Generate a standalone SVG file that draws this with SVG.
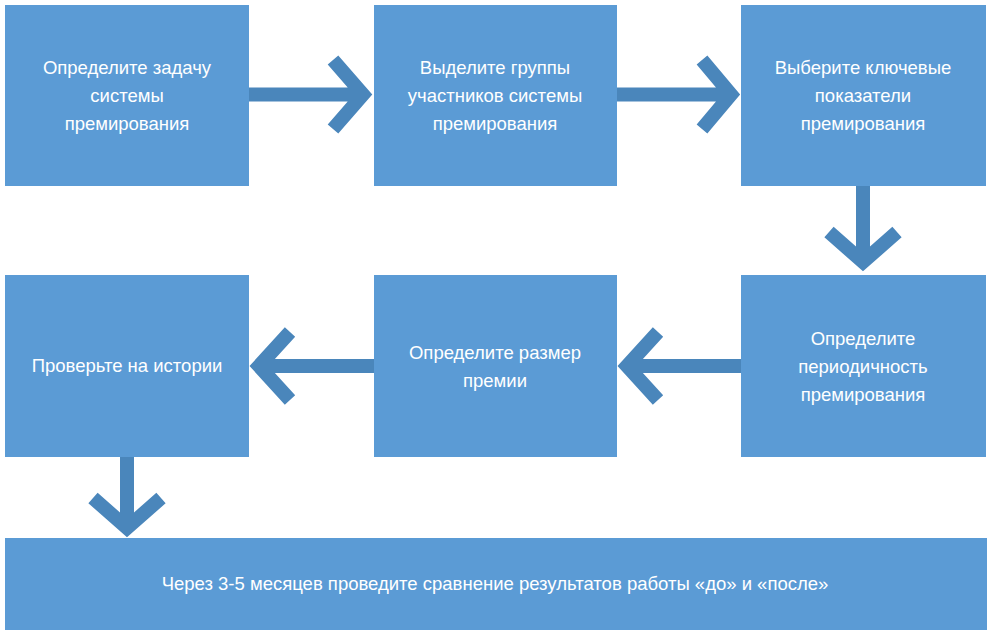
<svg xmlns="http://www.w3.org/2000/svg" width="992" height="635" viewBox="0 0 992 635">
<style>
.b{fill:#5b9bd5}
.t{fill:#fff;font-family:"Liberation Sans",Arial,sans-serif;font-size:18.5px;text-anchor:middle}
.a{fill:none;stroke:#4a86bb;stroke-width:14;stroke-linejoin:miter;stroke-miterlimit:10}
</style>
<rect width="992" height="635" fill="#fff"/>
<g id="n1"><rect class="b" x="5" y="5" width="244" height="181"/><text class="t" x="127" y="74">Определите задачу</text><text class="t" x="127" y="102">системы</text><text class="t" x="127" y="130">премирования</text></g>
<g id="n2"><rect class="b" x="374" y="5" width="243" height="181"/><text class="t" x="495" y="74">Выделите группы</text><text class="t" x="495" y="102">участников системы</text><text class="t" x="495" y="130">премирования</text></g>
<g id="n3"><rect class="b" x="741" y="5" width="245" height="181"/><text class="t" x="863" y="74">Выберите ключевые</text><text class="t" x="863" y="102">показатели</text><text class="t" x="863" y="130">премирования</text></g>
<g id="n4"><rect class="b" x="5" y="275" width="244" height="182"/><text class="t" x="127" y="372">Проверьте на истории</text></g>
<g id="n5"><rect class="b" x="374" y="275" width="243" height="182"/><text class="t" x="495" y="359">Определите размер</text><text class="t" x="495" y="387">премии</text></g>
<g id="n6"><rect class="b" x="741" y="275" width="245" height="182"/><text class="t" x="863" y="345">Определите</text><text class="t" x="863" y="373">периодичность</text><text class="t" x="863" y="401">премирования</text></g>
<g id="n7"><rect class="b" x="5" y="538" width="982" height="92"/><text class="t" x="495" y="590">Через 3-5 месяцев проведите сравнение результатов работы «до» и «после»</text></g>
<g id="connectors">
<path class="a" d="M249 94.5H362M333 60L363 94.5L333 129"/>
<path class="a" d="M617 94.5H730M702 60L731 94.5L702 129"/>
<path class="a" d="M863 186V260M829 232L863 262L897 232"/>
<path class="a" d="M741 366H630M658 332L627 366L658 400"/>
<path class="a" d="M374 366H262M290 332L259 366L290 400"/>
<path class="a" d="M127 457V525M93 498L127 528L161 498"/>
</g>
</svg>
